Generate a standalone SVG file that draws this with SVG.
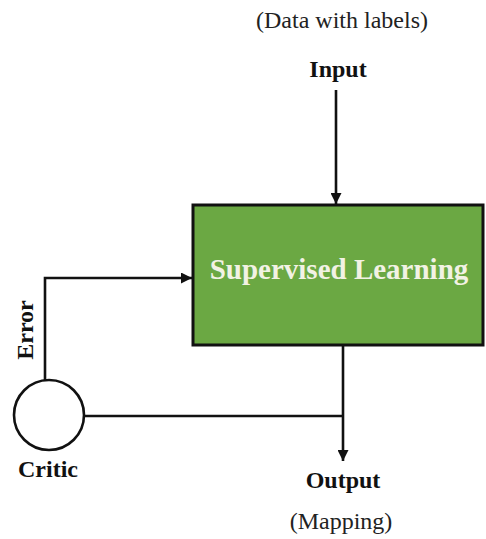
<svg xmlns="http://www.w3.org/2000/svg" width="486" height="539" viewBox="0 0 486 539">
<defs>
<style>
.lbl{font-family:"Liberation Serif","Times New Roman",serif;font-weight:bold;font-size:24px;fill:#111;text-anchor:middle}
.sub{font-family:"Liberation Serif","Times New Roman",serif;font-size:24px;fill:#222;text-anchor:middle}
.ln{fill:none;stroke:#111;stroke-width:2.6}
</style>
<marker id="ah" viewBox="0 0 10 10" refX="10" refY="5" markerWidth="11" markerHeight="11" markerUnits="userSpaceOnUse" orient="auto">
<path d="M0,0 L10,5 L0,10 Z" fill="#111"/>
</marker>
</defs>
<rect width="486" height="539" fill="#fff"/>
<g id="input-label">
<text class="sub" x="342" y="28">(Data with labels)</text>
<text class="lbl" x="338" y="77">Input</text>
</g>
<g id="supervised-learning">
<rect x="193" y="205" width="290" height="140" fill="#6BA843" stroke="#111" stroke-width="3"/>
<text x="339" y="279" font-family="'Liberation Serif','Times New Roman',serif" font-weight="bold" font-size="29" fill="#F2F2E4" text-anchor="middle">Supervised Learning</text>
</g>
<g id="critic">
<circle cx="49" cy="415" r="35" fill="#fff" stroke="#111" stroke-width="2.6"/>
<text class="lbl" x="48" y="477">Critic</text>
<text class="lbl" transform="translate(33,330) rotate(-90)" x="0" y="0" font-size="25">Error</text>
</g>
<g id="output-label">
<text class="lbl" x="343" y="488" font-size="25">Output</text>
<text class="sub" x="341" y="529">(Mapping)</text>
</g>
<g id="connectors">
<line class="ln" x1="336" y1="90" x2="336" y2="204" marker-end="url(#ah)"/>
<polyline class="ln" points="45,380 45,278 192,278" marker-end="url(#ah)"/>
<line class="ln" x1="343" y1="346" x2="343" y2="461" marker-end="url(#ah)"/>
<line class="ln" x1="84" y1="416" x2="343" y2="416"/>
</g>
</svg>
